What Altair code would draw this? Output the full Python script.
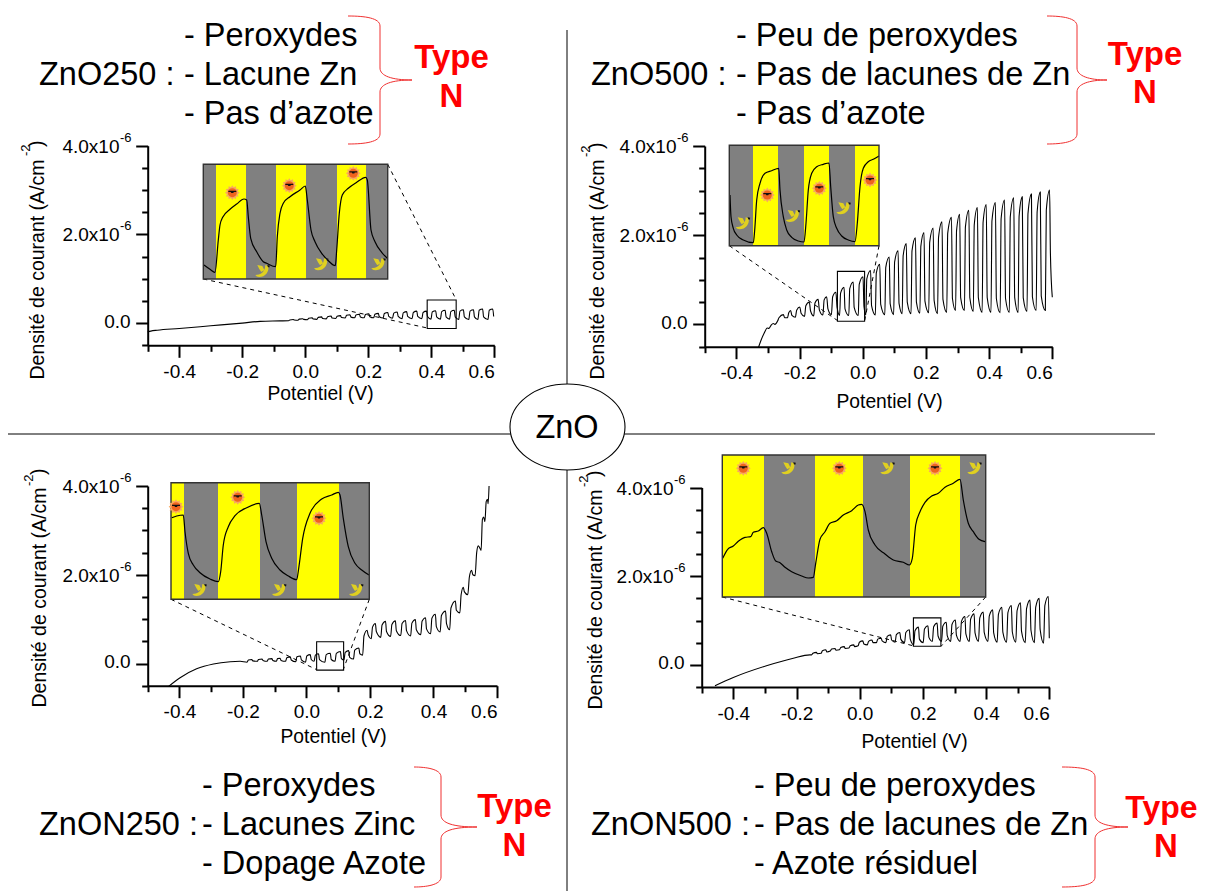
import altair as alt
import pandas as pd

W, H = 1191, 883
FONT = "Liberation Sans"
DUMMY = alt.Data(values=[{"a": 1}])

# ---- text ----
P1_TEXT = ["- Peroxydes", "ZnO250 :", "- Lacune Zn", "- Pas d’azote"]
P2_TEXT = ["- Peu de peroxydes", "ZnO500 :", "- Pas de lacunes de Zn", "- Pas d’azote"]
P3_TEXT = ["- Peroxydes", "ZnON250 :", "- Lacunes Zinc", "- Dopage Azote"]
P4_TEXT = ["- Peu de peroxydes", "ZnON500 :", "- Pas de lacunes de Zn", "- Azote résiduel"]

# ---- main curves: potential (V), current density (1e-6 A/cm2) ----
P1_V = [-.5,-.49,-.47,-.4,-.3,-.2,-.143,-.08,
 -.053,-.049,-.038,-.035,-.023,-.019,-.008,-.005,.007,.011,.022,.025,.037,.041,.052,.055,
 .067,.071,.082,.085,.097,.101,.112,.115,.127,.131,.142,.145,.157,.161,.172,.175,
 .187,.191,.202,.205,.217,.221,.232,.235,.247,.251,.262,.265,.277,.281,.292,.295,
 .307,.311,.322,.325,.339,.343,.354,.357,.370,.374,.385,.388,.399,.403,.414,.417,
 .429,.433,.444,.447,.458,.462,.473,.476,.487,.491,.502,.505,.519,.523,.534,.537,
 .548,.552,.563,.566,.580,.584,.595,.598]
P1_J = [-.20,-.18,-.16,-.12,-.06,-.0,.04,.05,
 .055,.072,.08,.07,.065,.09,.10,.085,.075,.11,.12,.095,.085,.13,.14,.105,
 .095,.145,.16,.115,.105,.155,.17,.125,.115,.175,.19,.135,.12,.185,.20,.14,
 .12,.195,.21,.145,.12,.20,.22,.145,.115,.215,.24,.15,.11,.225,.25,.15,
 .10,.23,.26,.15,.10,.24,.27,.15,.10,.24,.27,.15,.09,.25,.28,.14,
 .09,.26,.29,.14,.09,.26,.29,.14,.08,.27,.30,.14,.08,.27,.30,.14,
 .08,.29,.32,.14,.08,.29,.32,.15]

P2_V = [-.330,-.322,-.312,-.302,-.297,-.290,-.283,-.278,-.269,-.265,-.251,-.247,-.238,-.234,-.228,-.224,
 -.213,-.209,-.199,-.195,-.184,-.180,-.169,-.165,-.155,-.151,-.141,-.137,-.126,-.122,-.114,-.110,
 -.099,-.095,-.085,-.081,-.073,-.070,-.059,-.056,-.044,-.041,-.030,-.027,-.014,-.011,.001,.004,
 .010,.013,.025,.028,.040,.043,.054,.057,.070,.073,.084,.087,.098,.101,.112,.115,
 .125,.128,.138,.141,.153,.156,.167,.170,.181,.184,.194,.197,.209,.212,.223,.226,
 .237,.240,.251,.254,.266,.269,.281,.284,.294,.297,.307,.310,.322,.325,.336,.339,
 .350,.353,.363,.366,.378,.381,.391,.394,.406,.409,.420,.423,.435,.438,.449,.452,
 .464,.467,.478,.481,.492,.495,.505,.508,.520,.523,.534,.537,.549,.552,.562,.565,
 .578,.581,.5915,.594,.600]
P2_J = [-.52,-.36,-.2,-.08,-.09,-.02,.02,.0,.08,.15,.22,.15,.15,.26,.31,.2,
 .16,.32,.39,.25,.18,.42,.50,.3,.19,.48,.56,.32,.21,.55,.62,.35,
 .22,.62,.72,.38,.20,.70,.83,.35,.20,.80,.95,.38,.20,.90,1.07,.40,
 .21,1.02,1.21,.42,.21,1.15,1.35,.45,.22,1.28,1.51,.46,.22,1.40,1.65,.47,
 .24,1.54,1.81,.50,.24,1.65,1.94,.50,.25,1.75,2.06,.52,.26,1.84,2.16,.54,
 .24,1.95,2.30,.56,.27,2.04,2.40,.58,.31,2.10,2.47,.60,.31,2.18,2.56,.60,
 .29,2.23,2.62,.60,.27,2.29,2.69,.60,.27,2.32,2.73,.58,.26,2.37,2.79,.58,
 .27,2.41,2.84,.60,.27,2.43,2.86,.60,.29,2.48,2.92,.62,.31,2.52,2.97,.64,
 .31,2.56,3.01,1.6,.61]

P3_V = [-.435,-.398,-.346,-.293,-.24,-.209,
 -.187,-.183,-.172,-.169,-.155,-.151,-.14,-.137,-.124,-.12,-.109,-.106,-.095,-.091,-.083,-.08,
 -.066,-.062,-.051,-.048,-.034,-.03,-.019,-.016,-.003,.001,.012,.015,.024,.028,.038,.041,
 .058,.062,.075,.078,.09,.094,.107,.11,.118,.122,.133,.136,.148,.152,.165,.168,
 .177,.181,.191,.194,.204,.208,.217,.22,.234,.238,.249,.252,.265,.269,.28,.283,
 .297,.301,.312,.315,.328,.332,.343,.346,.36,.364,.375,.378,.391,.395,.406,.409,
 .421,.425,.438,.441,.451,.455,.469,.472,.483,.487,.494,.497,.508,.513,.52,.524,
 .531,.536,.541,.546,.55,.554,.558,.562,.566,.57,.572,.575]
P3_J = [-.52,-.32,-.12,-.01,.04,.05,
 .03,.08,.09,.06,.05,.09,.10,.07,.05,.10,.11,.07,.05,.11,.12,.07,
 .05,.13,.15,.08,.04,.15,.17,.08,.03,.17,.20,.09,.05,.19,.22,.09,
 .03,.20,.23,.09,.05,.23,.27,.11,.08,.25,.29,.14,.10,.30,.35,.22,
 .19,.62,.75,.65,.56,.82,.90,.72,.59,.87,.95,.72,.61,.88,.96,.74,
 .63,.90,.97,.74,.62,.91,.99,.76,.65,.95,1.03,.78,.67,1.02,1.11,.83,
 .71,1.08,1.18,.9,.76,1.25,1.41,1.2,1.14,1.55,1.72,1.62,1.55,1.95,2.1,2.0,
 1.98,2.5,2.65,2.6,2.55,3.25,3.3,3.2,3.65,3.7,3.6,4.0]

P4_V = [-.458,-.40,-.295,-.21,-.158,
 -.152,-.148,-.137,-.134,-.122,-.118,-.107,-.104,-.093,-.089,-.078,-.075,-.064,-.06,-.049,-.046,
 -.034,-.03,-.019,-.016,-.005,-.001,.01,.013,.024,.028,.039,.042,.053,.057,.068,.071,
 .083,.087,.098,.101,.112,.116,.127,.13,.142,.146,.157,.16,.171,.175,.186,.189,
 .201,.205,.216,.219,.23,.234,.245,.248,.259,.263,.274,.277,.288,.292,.303,.306,
 .318,.322,.333,.336,.347,.351,.362,.365,.376,.38,.391,.394,.406,.41,.421,.424,
 .435,.439,.45,.453,.465,.469,.48,.483,.494,.498,.509,.512,.524,.528,.539,.542,
 .553,.557,.568,.571,.582,.586,.597,.6]
P4_J = [-.47,-.285,-.02,.15,.225,
 .225,.26,.28,.25,.26,.32,.34,.29,.31,.355,.37,.33,.34,.39,.41,.37,
 .38,.43,.45,.41,.43,.51,.54,.47,.45,.53,.56,.5,.50,.58,.60,.54,
 .50,.64,.675,.56,.51,.68,.73,.58,.50,.73,.79,.58,.45,.77,.85,.58,
 .50,.81,.88,.62,.53,.86,.94,.65,.53,.87,.96,.66,.53,.91,1.01,.67,
 .53,.98,1.09,.70,.53,1.03,1.15,.72,.53,1.06,1.19,.73,.53,1.1,1.24,.72,
 .51,1.14,1.30,.74,.51,1.18,1.34,.74,.51,1.22,1.40,.76,.50,1.27,1.46,.78,
 .50,1.3,1.5,.80,.49,1.34,1.54,.60]

# ---- inset curves: relative time, relative current ----
I1_T = [.7,6.7,11.7,15,16.7,19.4,26.7,33.4,40.7,43.4,45,47.4,53.4,60,63.4,72.4,74,76.7,80,86.7,96.7,102,104,107.7,111.7,118.4,125,132,133.4,136,139,145,153.4,162.4,164,167.7,171.7,178.4,184]
I1_C = [14,9.7,6.7,39,54,61.7,69.7,75,80,79,62.3,40.7,27.3,17.3,15.7,12.3,42.3,65.7,75.7,82.3,89,93,79,49,37.3,25.7,18.3,13.3,29,65.7,84,90.7,96.7,101.7,99,49,37.3,26.7,20.7]
I2_T = [.7,1.7,4,7.4,14,24,25.4,27.4,30.7,35.7,42.4,49.4,50.7,54,57.4,62.4,69,74.7,76.7,79,82.4,87.4,94,99.7,101.4,104,107.4,112.4,119,125.7,128,130.7,134,139,144,149.7]
I2_C = [50.7,29,17.4,10.7,5.7,3,15.7,45.7,62.4,72.4,75,77.4,55.7,29,15.7,8.4,4.7,3.7,22.4,55.7,72.4,79,81.4,82.7,59,29,17.4,9.7,5.7,4,22.4,59,77.4,84,86.4,89.7]
I3_T = [.7,5.7,12.3,14,17.3,22.3,29,39,47.3,49.7,52.3,57.3,64,75.7,88.3,90.7,95,100.7,109,117.3,125.7,127.7,131.7,139,150.7,160.7,167.3,169,172.3,177.3,184,190.7,198]
I3_C = [81.6,83.3,84.3,67.6,46,34.3,26.6,20.3,17.6,27.6,54.3,72.6,83.6,91.6,96,84.3,57.6,41,29.3,23.3,19.6,31,61,86,100.3,104.3,107,104.3,81,52.6,36,29.3,24.3]
I4_T = [.4,5.4,11,16,22.7,28.4,31,36,41,44.4,49.4,53.4,57.7,62.7,69.4,79.4,86,91,93.4,97.7,102.7,107.7,114.4,121,129.4,136,139.4,142.7,146,152.7,162.7,171,181,187,190,193.4,197.7,202.7,209.4,216,222.7,231,237.7,241,246,251,256.7,262.7]
I4_C = [38.7,47.7,51,55.7,59.7,60.3,64.7,66,69.3,63.7,45.3,36,34.3,29.7,25.3,21,19,19.7,33.7,57.7,65.3,73.7,76.3,82,86.3,92,92.7,85.3,67,52,43,37,34.7,32,38.7,72,85.3,94.7,101,103.7,109.7,113.7,117.7,97,73.7,65.3,57.7,55.3]

# inset bands: start, end (yellow = light on, grey = dark)
I1_YELLOW = [[12.7,42.7],[72.7,102.7],[133.7,162.7]]
I2_YELLOW = [[23.7,48.7],[74.7,99.7],[125.7,149.7]]
I3_YELLOW = [[0,13],[47,89],[126,168]]
I4_YELLOW = [[0,41.7],[92.7,140.7],[187.7,237.7]]
# sun and bird pictograms, inset units
I1_SUN, I1_BIRD = [[29,86.3],[86,93.3],[150,105.7]], [[59,8],[117.7,14.7],[175,14.7]]
I2_SUN, I2_BIRD = [[38,50.7],[90,57.4],[140.7,65.7]], [[13.4,22.4],[63.4,29.7],[114,37.4]]
I3_SUN, I3_BIRD = [[5,92.6],[66.7,102],[148,81]], [[28.3,9.3],[108,9.3],[185,9.3]]
I4_SUN, I4_BIRD = [[21,128.7],[117,128.7],[212.7,128.7]], [[66,128.7],[165,128.7],[252,128.7]]

X_MAJOR = [-.4,-.2,0,.2,.4,.6]
X_MINOR = [-.5,-.3,-.1,.1,.3,.5]
Y_MINOR = [-.5,.5,1,1.5,2.5,3,3.5]
Y_MAJOR = [0,2,4]
Y_SCI = [2,4]

SUN_STAR = "M8,0 L5.8,1.55 L6.9,4 L4.2,4.2 L4,6.9 L1.55,5.8 L0,8 L-1.55,5.8 L-4,6.9 L-4.2,4.2 L-6.9,4 L-5.8,1.55 L-8,0 L-5.8,-1.55 L-6.9,-4 L-4.2,-4.2 L-4,-6.9 L-1.55,-5.8 L0,-8 L1.55,-5.8 L4,-6.9 L4.2,-4.2 L6.9,-4 L5.8,-1.55 Z"
SUN_GLASS = "M-4,-2 L4,-2 L4,-0.7 L1.5,-0.7 L1,0.3 L-1,0.3 L-1.5,-0.7 L-4,-0.7 Z"
BIRD = "M-7,4 C-2,4 3,1 3,-6 L6,-5 C7,1 3,6 -3,6 C-5,6 -6,5 -7,4 Z M-5,-6 L0,-5 L2,-1 L-1,1 L-3,-2 Z"
BIRD_EYE = "M5,-6 L7.5,-5.5 L7,-3.5 L5.5,-4 Z"
BRACE = "M-{w},-{h} C-15,-{h} 0,-{k} 0,-{m} L0,-12 C0,-4 12,0 {t},0 C12,0 0,4 0,12 L0,{m} C0,{k} -15,{h} -{w},{h}"
ELLIPSE = "M-57.5,0 A57.5,43 0 1,1 57.5,0 A57.5,43 0 1,1 -57.5,0 Z"

layers = []


def txt(s, x, y, size, color="black", weight="normal", align="left", angle=0, baseline="middle"):
    layers.append(alt.Chart(DUMMY).mark_text(font=FONT, fontSize=size, color=color, fontWeight=weight,
                                             align=align, angle=angle, baseline=baseline)
                  .encode(x=alt.value(x - 8), y=alt.value(y - 8), text=alt.value(s)))


def seg(x1, y1, x2, y2, dash=False, width=1.0):
    m = alt.Chart(DUMMY).mark_rule(color="black", strokeWidth=width, strokeDash=[4, 4] if dash else [1, 0])
    layers.append(m.encode(x=alt.value(x1 - 8), x2=alt.value(x2 - 8), y=alt.value(y1 - 8), y2=alt.value(y2 - 8)))


def shape(path, x, y, fill=None, stroke=None, sw=1.2):
    kw = dict(filled=fill is not None, shape=path, size=4, opacity=1)
    if fill is not None:
        kw["fill"] = fill
    if stroke is not None:
        kw["stroke"] = stroke
        kw["strokeWidth"] = sw
    layers.append(alt.Chart(DUMMY).mark_point(**kw).encode(x=alt.value(x - 8), y=alt.value(y - 8)))


def panel(V, J, xa, xb, y4, y0, ybot, box, title_xy, ytitle):
    xs = alt.Scale(domain=[-.5, .6], range=[xa - 8, xb - 8], nice=False, zero=False)
    ys = alt.Scale(domain=[-.5, 4], range=[ybot - 8, y4 - 8], nice=False, zero=False)
    xoff, yoff = ybot - 8 - H, -(xa - 8)
    common = dict(grid=False, domainColor="black", tickColor="black", domainWidth=2, tickWidth=2,
                  labelFont=FONT, labelColor="black", labelOverlap=False)
    xax = alt.Axis(orient="bottom", offset=xoff, values=X_MAJOR, tickSize=12, labelFontSize=19, labelPadding=5,
                   labelExpr="datum.value<0 ? '-'+format(-datum.value,'.1f') : format(datum.value,'.1f')",
                   title="Potentiel (V)", titleFont=FONT, titleFontSize=19.3, titleFontWeight="normal", titleColor="black",
                   titleX=title_xy[0] - 8, titleY=title_xy[1] - ybot, titleBaseline="middle", titleAlign="center", **common)
    yax = alt.Axis(orient="left", offset=yoff, values=Y_MAJOR, tickSize=12, labelFontSize=19, labelPadding=5.5, labelOffset=-2,
                   labelExpr="datum.value==0 ? '0.0' : ''",
                   title="Densité de courant (A/cm", titleFont=FONT, titleFontSize=19.5, titleFontWeight="normal", titleColor="black",
                   titleX=ytitle[0] - xa, titleY=ytitle[1] - 8, titleAngle=270, titleAlign="left", titleBaseline="alphabetic", **common)
    xminor = alt.Axis(orient="bottom", offset=xoff, values=X_MINOR, tickSize=6, labels=False, domain=False, title=None, grid=False, tickColor="black", tickWidth=2)
    yminor = alt.Axis(orient="left", offset=yoff, values=Y_MINOR, tickSize=6, labels=False, domain=False, title=None, grid=False, tickColor="black", tickWidth=2)
    df = pd.DataFrame({"V": V, "J": J})
    layers.append(alt.Chart(df).mark_line(color="black", strokeWidth=1.1, interpolate="monotone")
                  .encode(x=alt.X("V:Q", scale=xs, axis=xax), y=alt.Y("J:Q", scale=ys, axis=yax), order="V:Q"))
    bdf = pd.DataFrame([{"x0": box[0], "x1": box[1], "y0": box[2], "y1": box[3]}])
    layers.append(alt.Chart(bdf).mark_rect(fillOpacity=0, stroke="black", strokeWidth=1.1)
                  .encode(x=alt.X("x0:Q", scale=xs, axis=xminor), x2="x1:Q", y=alt.Y("y0:Q", scale=ys, axis=yminor), y2="y1:Q"))
    base = alt.Chart(pd.DataFrame({"J": Y_SCI}))
    ys2 = alt.Y("J:Q", scale=ys, axis=None)
    layers.append(base.transform_calculate(t="format(datum.J,'.1f')+'x10'").mark_text(font=FONT, fontSize=19, align="right", baseline="middle", dy=1, color="black")
                  .encode(y=ys2, x=alt.value(xa - 28.2 - 8), text="t:N"))
    layers.append(base.mark_text(font=FONT, fontSize=13, align="left", baseline="middle", dy=-8, color="black")
                  .encode(y=ys2, x=alt.value(xa - 27.7 - 8), text=alt.value("-6")))
    # exponent of the y title
    txt("-2", ytitle[2], ytitle[3], 13, angle=270, baseline="alphabetic")
    txt(")", ytitle[0], ytitle[4], 19.5, angle=270, baseline="alphabetic")


def inset(T, C, x0, x1, y0, y1, yellow, suns, birds):
    w, h = x1 - x0, y1 - y0
    xs = alt.Scale(domain=[0, w], range=[x0 - 8, x1 - 8], nice=False, zero=False)
    ys = alt.Scale(domain=[0, h], range=[y1 - 8, y0 - 8], nice=False, zero=False)
    X = lambda f: alt.X(f, scale=xs, axis=None)
    Y = lambda f: alt.Y(f, scale=ys, axis=None)
    frame = pd.DataFrame([{"a": 0, "b": w, "c": 0, "d": h}])
    layers.append(alt.Chart(frame).mark_rect(color="#808080").encode(x=X("a:Q"), x2="b:Q", y=Y("c:Q"), y2="d:Q"))
    yb = pd.DataFrame([{"a": a, "b": b, "c": 0, "d": h} for a, b in yellow])
    layers.append(alt.Chart(yb).mark_rect(color="#ffff00").encode(x=X("a:Q"), x2="b:Q", y=Y("c:Q"), y2="d:Q"))
    df = pd.DataFrame({"T": T, "C": C})
    layers.append(alt.Chart(df).mark_line(color="black", strokeWidth=1.2, interpolate="monotone")
                  .encode(x=X("T:Q"), y=Y("C:Q"), order="T:Q"))
    layers.append(alt.Chart(frame).mark_rect(fillOpacity=0, stroke="#333333", strokeWidth=1.4).encode(x=X("a:Q"), x2="b:Q", y=Y("c:Q"), y2="d:Q"))
    sd = pd.DataFrame(suns, columns=["x", "y"])
    bd = pd.DataFrame(birds, columns=["x", "y"])
    enc = dict(x=X("x:Q"), y=Y("y:Q"))
    layers.append(alt.Chart(sd).mark_point(shape=SUN_STAR, size=3.4, filled=True, fill="#f8a860", opacity=1).encode(**enc))
    layers.append(alt.Chart(sd).mark_point(shape="circle", size=80, filled=True, fill="#f0641e", opacity=1).encode(**enc))
    layers.append(alt.Chart(sd).mark_point(shape=SUN_GLASS, size=4, filled=True, fill="#111111", opacity=1).encode(**enc))
    layers.append(alt.Chart(bd).mark_point(shape=BIRD, size=4, filled=True, fill="#e0d020", opacity=1).encode(**enc))
    layers.append(alt.Chart(bd).mark_point(shape=BIRD_EYE, size=4, filled=True, fill="#111111", opacity=1).encode(**enc))


# ---- separators and centre ----
seg(567, 30, 567, 385)
seg(567, 470, 567, 891)
seg(8, 434, 511, 434)
seg(624, 434, 1155, 434)
shape(ELLIPSE, 567.5, 427, fill="white", stroke="black", sw=1.1)
txt("ZnO", 567, 428, 32.5, align="center")

# ---- panels ----
panel(P1_V, P1_J, 147.7, 494.3, 145.7, 322.7, 345.3, [.387, .479, -.12, .52], (320, 393), (43, 379, 30, 156, 147))
panel(P2_V, P2_J, 704.7, 1052.3, 146, 323.7, 346.7, [-.080, .006, .07, 1.19], (889, 401), (603.3, 379, 590, 157, 149))
panel(P3_V, P3_J, 147.7, 497, 486, 663, 685.7, [.032, .117, -.15, .49], (333, 736), (45, 707, 33, 486, 475))
panel(P4_V, P4_J, 701.7, 1049.3, 487.5, 665, 687, [.170, .257, .42, 1.06], (914, 741), (601, 709, 588, 487, 477))

# ---- zoom connectors ----
seg(203.3, 279, 427.3, 328, True)
seg(387.7, 164.3, 456.3, 300, True)
seg(729.3, 245.7, 837.7, 320.7, True)
seg(879, 245.7, 864.7, 320.7, True)
seg(171, 599.3, 316.3, 669.5, True)
seg(369.3, 599.3, 343.3, 669.5, True)
seg(722.3, 597, 914, 646, True)
seg(985.7, 597, 941.3, 646, True)

# ---- insets ----
inset(I1_T, I1_C, 203.3, 387.7, 164.3, 279, I1_YELLOW, I1_SUN, I1_BIRD)
inset(I2_T, I2_C, 729.3, 879, 145.3, 245.7, I2_YELLOW, I2_SUN, I2_BIRD)
inset(I3_T, I3_C, 171, 369.3, 482.7, 599.3, I3_YELLOW, I3_SUN, I3_BIRD)
inset(I4_T, I4_C, 722.3, 985.7, 455, 597, I4_YELLOW, I4_SUN, I4_BIRD)

# ---- headers ----
for lines, xl, xr, yc in [(P1_TEXT, 39, 184, (36, 75, 114)), (P2_TEXT, 591, 736, (36, 75, 114)),
                          (P3_TEXT, 39, 202, (786, 825, 864)), (P4_TEXT, 591, 754, (786, 825, 864))]:
    txt(lines[0], xr, yc[0], 32.5)
    txt(lines[1], xl, yc[1], 32.5)
    txt(lines[2], xr, yc[1], 32.5)
    txt(lines[3], xr, yc[2], 32.5)

for cx, y1, y2, fs in [(451.5, 58, 97, 33), (1145, 55, 93, 33), (514.5, 807, 846, 33)]:
    txt("Type", cx, y1, fs, color="#ff0000", weight="bold", align="center")
    txt("N", cx, y2, fs, color="#ff0000", weight="bold", align="center")
# the last label sits against the page's right edge
txt("Type", 1161.5, 808, 32, color="#ff0000", weight="bold", align="center")
txt("N", 1166, 847, 33, color="#ff0000", weight="bold", align="center")

red = "#f03030"
shape(BRACE.format(w=32, h=64, k=62, m=54, t=32), 380, 80, stroke=red, sw=1)
shape(BRACE.format(w=30, h=64, k=62, m=54, t=30), 1077, 80, stroke=red, sw=1)
shape(BRACE.format(w=27, h=60, k=58, m=50, t=36), 441, 827, stroke=red, sw=1)
shape(BRACE.format(w=33, h=60, k=58, m=50, t=33), 1095, 827, stroke=red, sw=1)

chart = (alt.layer(*layers)
         .resolve_scale(x="independent", y="independent")
         .properties(width=W, height=H, padding=0, background="white", autosize=alt.AutoSizeParams(type="none"))
         .configure_view(stroke=None))
chart.save("out.html", embed_options={"renderer": "svg", "actions": False})
